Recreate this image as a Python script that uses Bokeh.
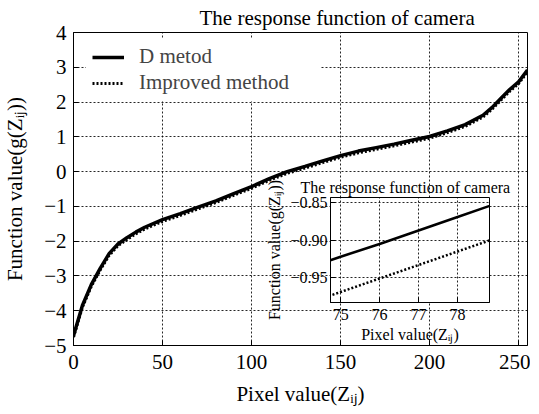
from bokeh.plotting import figure
from bokeh.models import Range1d, FixedTicker, Legend, LegendItem
from bokeh.layouts import column
from bokeh.embed import file_html
from bokeh.resources import INLINE

# ---- data ----
pixel = [0, 5, 10, 15, 20, 25, 30, 35, 40, 50, 60, 70, 80, 90, 100, 110, 120,
         130, 140, 150, 160, 170, 180, 190, 200, 210, 220, 230, 235, 240, 245, 250, 255]
d_metod = [-4.72, -3.85, -3.25, -2.78, -2.36, -2.08, -1.90, -1.74, -1.60, -1.38, -1.21,
           -1.02, -0.84, -0.63, -0.43, -0.20, 0.00, 0.15, 0.31, 0.46, 0.59, 0.69, 0.79,
           0.90, 1.01, 1.17, 1.35, 1.62, 1.84, 2.10, 2.36, 2.58, 2.92]
improved = [-4.76, -3.90, -3.30, -2.83, -2.41, -2.13, -1.95, -1.79, -1.65, -1.43, -1.26,
            -1.07, -0.89, -0.68, -0.48, -0.25, -0.05, 0.10, 0.26, 0.41, 0.54, 0.64, 0.74,
            0.85, 0.96, 1.12, 1.30, 1.57, 1.79, 2.05, 2.31, 2.53, 2.87]
x_ticks = [0, 50, 100, 150, 200, 250]
y_ticks = [-5, -4, -3, -2, -1, 0, 1, 2, 3, 4]
y_tick_labels = ["\u22125", "\u22124", "\u22123", "\u22122", "\u22121", "0", "1", "2", "3", "4"]

inset_pixel = [74.5, 75, 76, 77, 78, 79]
inset_d = [-0.931, -0.922, -0.905, -0.887, -0.869, -0.851]
inset_improved = [-0.978, -0.969, -0.951, -0.933, -0.915, -0.897]
inset_x_ticks = [75, 76, 77, 78]
inset_y_ticks = [-0.95, -0.90, -0.85]
inset_y_tick_labels = ["\u22120.95", "\u22120.90", "\u22120.85"]

SERIF = "Liberation Serif"


def style_axes(fig, size, tick_standoff, label_standoff):
    for ax in (fig.xaxis[0], fig.yaxis[0]):
        ax.major_label_text_font = SERIF
        ax.major_label_text_font_size = size
        ax.major_label_text_color = "black"
        ax.axis_label_text_font = SERIF
        ax.axis_label_text_font_size = size
        ax.axis_label_text_font_style = "normal"
        ax.axis_label_text_color = "black"
        ax.major_tick_in = 5
        ax.major_tick_out = 0
        ax.minor_tick_line_color = None
        ax.axis_line_color = "black"
        ax.major_tick_line_color = "black"
        ax.major_label_standoff = tick_standoff
        ax.axis_label_standoff = label_standoff
    for g in (fig.xgrid[0], fig.ygrid[0]):
        g.grid_line_color = "black"
        g.grid_line_dash = "2 2"
        g.grid_line_width = 1
        g.grid_line_alpha = 0.85
    fig.outline_line_color = "black"
    fig.outline_line_alpha = 1
    fig.title.text_font = SERIF
    fig.title.text_font_style = "normal"
    fig.title.text_color = "black"


# ---- main figure ----
p = figure(frame_width=454, frame_height=313, x_range=Range1d(0, 255), y_range=Range1d(-5, 4),
           output_backend="svg", toolbar_location=None,
           title="The response function of camera",
           min_border_left=0, min_border_right=3, min_border_top=0, min_border_bottom=0)
p.xaxis.axis_label = "Pixel value(Z\u1d62\u2c7c)"
p.yaxis.axis_label = "Function value(g(Z\u1d62\u2c7c))"
p.xaxis.ticker = FixedTicker(ticks=x_ticks)
p.yaxis.ticker = FixedTicker(ticks=y_ticks)
p.yaxis.major_label_overrides = dict(zip(y_ticks, y_tick_labels))
style_axes(p, "21px", 7, 14)
p.xaxis.major_label_standoff = 9
p.xaxis.axis_label_standoff = 10
p.title.text_font_size = "21px"
p.title.align = "left"
p.title.offset = 126
p.title.standoff = 6

r_imp = p.line(pixel, improved, line_color="black", line_width=3, line_dash="2 2")
r_d = p.line(pixel, d_metod, line_color="black", line_width=3.5)

legend = Legend(items=[LegendItem(label="D metod", renderers=[r_d]),
                       LegendItem(label="Improved method", renderers=[r_imp])],
                location=(13, 244), padding=6, spacing=1, margin=0,
                glyph_width=32, glyph_height=24, label_height=24, label_width=175,
                label_standoff=15,
                border_line_alpha=0, background_fill_color="white", background_fill_alpha=1,
                label_text_font=SERIF, label_text_font_size="21px")
p.add_layout(legend)

# ---- inset figure ----
q = figure(frame_width=159, frame_height=105, x_range=Range1d(74.74, 78.82),
           y_range=Range1d(-0.983, -0.843),
           output_backend="svg", toolbar_location=None,
           title="The response function of camera",
           min_border_left=66, min_border_right=30, min_border_top=24, min_border_bottom=46)
q.xaxis.axis_label = "Pixel value(Z\u1d62\u2c7c)"
q.yaxis.axis_label = "Function value(g(Z\u1d62\u2c7c))"
q.xaxis.ticker = FixedTicker(ticks=inset_x_ticks)
q.yaxis.ticker = FixedTicker(ticks=inset_y_ticks)
q.yaxis.major_label_overrides = dict(zip(inset_y_ticks, inset_y_tick_labels))
style_axes(q, "16px", 3, 4)
q.xaxis.major_label_standoff = 6
q.xaxis.axis_label_standoff = 3
q.title.text_font_size = "16px"
q.title.align = "left"
q.title.offset = -30
q.title.standoff = 4
q.background_fill_color = "white"
q.border_fill_color = None
q.line(inset_pixel, inset_improved, line_color="black", line_width=2.5, line_dash="2 2")
q.line(inset_pixel, inset_d, line_color="black", line_width=2.5)

q.styles = {"position": "absolute", "left": "257px", "top": "173px"}

layout = column(p, q)

with open("out.html", "w") as f:
    f.write(file_html(layout, INLINE))
